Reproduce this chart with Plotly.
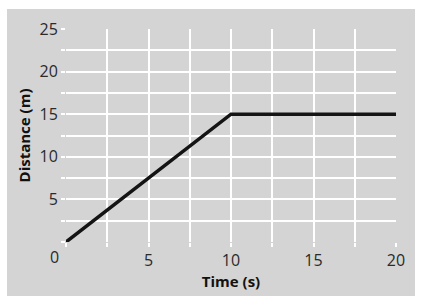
import plotly.graph_objects as go

time_s = [0, 10, 20]
distance_m = [0, 15, 15]

x_tickvals = [0, 2.5, 5, 7.5, 10, 12.5, 15, 17.5, 20]
x_ticktext = ["", "", "5", "", "10", "", "15", "", "20"]
y_tickvals = [0, 2.5, 5, 7.5, 10, 12.5, 15, 17.5, 20, 22.5, 25]
y_ticktext = ["", "", "5", "", "10", "", "15", "", "20", "", "25"]

x_title = "Time (s)"
y_title = "Distance (m)"

font_family = "Open Sans, Segoe UI, sans-serif"

fig = go.Figure()
fig.add_trace(go.Scatter(x=time_s, y=distance_m, mode="lines",
                         line=dict(color="#141414", width=3.5),
                         showlegend=False, hoverinfo="skip"))

fig.add_shape(type="rect", xref="paper", yref="paper",
              x0=-0.1788, x1=1.0576, y0=-0.2535, y1=1.0939,
              fillcolor="#d4d4d4", line=dict(width=0), layer="below")

fig.add_annotation(x=0, y=0, xref="x", yref="y", text="0", showarrow=False,
                   xanchor="right", yanchor="top", xshift=-5, yshift=-2,
                   font=dict(family=font_family, size=16, color="#2a2a2a"))

axis_common = dict(showgrid=True, gridcolor="white", gridwidth=2,
                   zeroline=False, showline=False,
                   ticks="outside", ticklen=4, tickcolor="white", tickwidth=2,
                   tickfont=dict(family=font_family, size=16, color="#2a2a2a"),
                   fixedrange=True)

fig.update_xaxes(range=[0, 20], tickmode="array", tickvals=x_tickvals,
                 ticktext=x_ticktext,
                 title=dict(text="<b>" + x_title + "</b>", standoff=2,
                            font=dict(family=font_family, size=15, color="#111111")),
                 **axis_common)
fig.update_yaxes(range=[0, 25], tickmode="array", tickvals=y_tickvals,
                 ticktext=y_ticktext,
                 title=dict(text="<b>" + y_title + "</b>", standoff=5,
                            font=dict(family=font_family, size=15, color="#111111")),
                 **axis_common)

fig.update_layout(width=421, height=303,
                  margin=dict(l=66, r=25, t=29, b=61),
                  paper_bgcolor="white", plot_bgcolor="#d4d4d4")

fig.write_html("out.html")
